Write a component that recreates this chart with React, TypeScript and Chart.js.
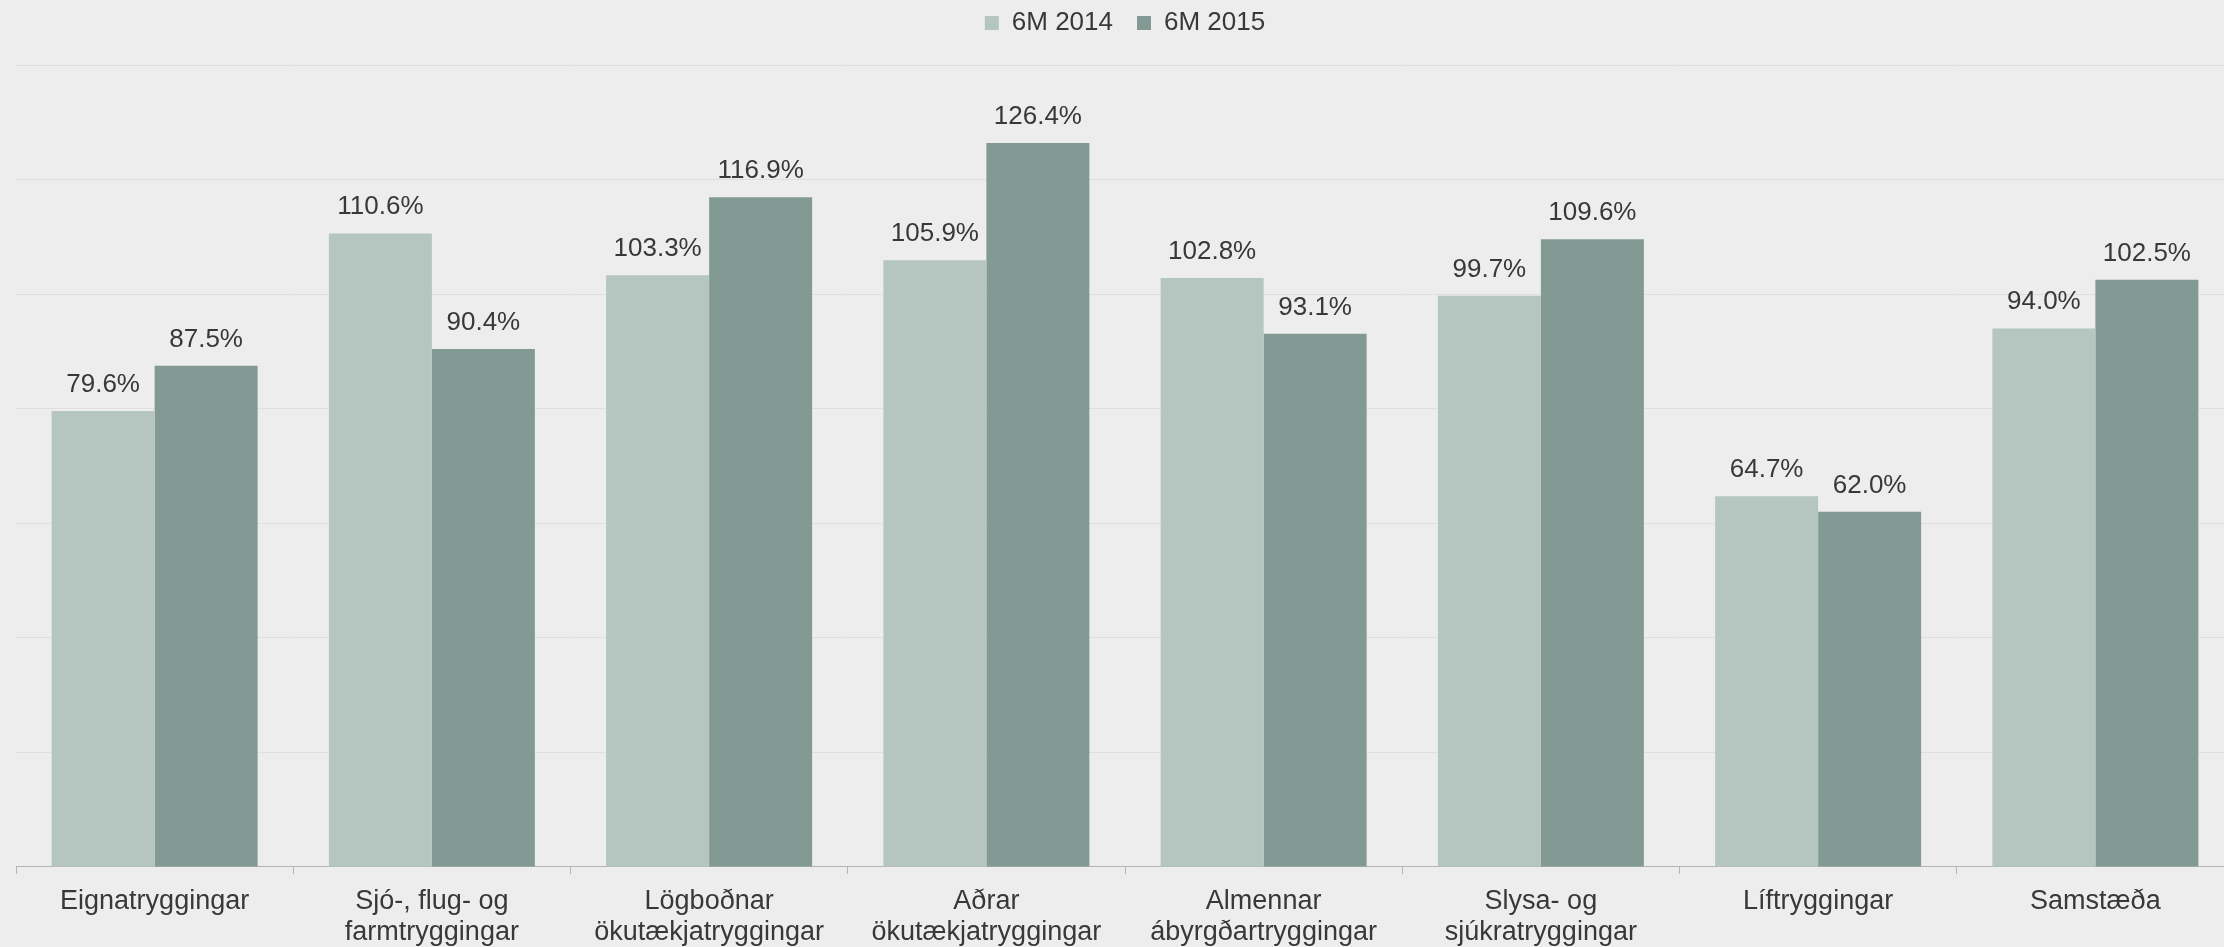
import React, { useEffect, useRef } from "react";
import { Chart, registerables } from "chart.js";

Chart.register(...registerables);

const categories: (string | string[])[] = [
  "Eignatryggingar",
  ["Sjó-, flug- og", "farmtryggingar"],
  ["Lögboðnar", "ökutækjatryggingar"],
  ["Aðrar", "ökutækjatryggingar"],
  ["Almennar", "ábyrgðartryggingar"],
  ["Slysa- og", "sjúkratryggingar"],
  "Líftryggingar",
  "Samstæða",
];

const seriesNames = ["6M 2014", "6M 2015"];
const values2014 = [79.6, 110.6, 103.3, 105.9, 102.8, 99.7, 64.7, 94.0];
const values2015 = [87.5, 90.4, 116.9, 126.4, 93.1, 109.6, 62.0, 102.5];
const yTicks = [0, 20, 40, 60, 80, 100, 120, 140];

const FONT = "'Liberation Sans', Arial, sans-serif";
const TEXT = "#383838";
const LEGEND_GAP = 24;

const legendSpacer = {
  id: "legendSpacer",
  beforeInit(chart: any) {
    const legend = chart.legend;
    if (!legend) return;
    const fit = legend.fit;
    legend.fit = function () {
      fit.call(this);
      this.height = 65;
    };
  },
  afterLayout(chart: any) {
    if (chart.legend) chart.legend.top = 10 - LEGEND_GAP;
  },
};

const valueLabels = {
  id: "valueLabels",
  afterDatasetsDraw(chart: any) {
    const ctx = chart.ctx;
    ctx.save();
    ctx.font = `26px ${FONT}`;
    ctx.fillStyle = TEXT;
    ctx.textAlign = "center";
    ctx.textBaseline = "alphabetic";
    chart.data.datasets.forEach((ds: any, i: number) => {
      const meta = chart.getDatasetMeta(i);
      meta.data.forEach((bar: any, j: number) => {
        const v = ds.data[j] as number;
        ctx.fillText(`${v.toFixed(1)}%`, bar.x, bar.y - 19);
      });
    });
    ctx.restore();
  },
};

export default function App() {
  const ref = useRef<HTMLCanvasElement>(null);

  useEffect(() => {
    if (!ref.current) return;
    const chart = new Chart(ref.current, {
      type: "bar",
      data: {
        labels: categories,
        datasets: [
          {
            label: seriesNames[0],
            data: values2014,
            backgroundColor: "#b5c5bf",
            barPercentage: 1,
            categoryPercentage: 0.743,
          },
          {
            label: seriesNames[1],
            data: values2015,
            backgroundColor: "#829a93",
            barPercentage: 1,
            categoryPercentage: 0.743,
          },
        ],
      },
      options: {
        responsive: false,
        animation: false,
        layout: { padding: { left: 16, right: 0, top: 0, bottom: -13 } },
        plugins: {
          legend: {
            position: "top",
            labels: {
              boxWidth: 14,
              boxHeight: 14,
              padding: LEGEND_GAP,
              color: TEXT,
              font: { family: FONT, size: 26 },
            },
          },
          tooltip: { enabled: false },
        },
        scales: {
          x: {
            grid: {
              display: true,
              drawOnChartArea: false,
              drawTicks: true,
              tickLength: 7,
              color: "#b4b4b4",
              offset: true,
            },
            border: { display: true, color: "#b4b4b4", width: 1 },
            ticks: {
              color: TEXT,
              font: { family: FONT, size: 27, lineHeight: 1.15 },
              padding: 12,
              maxRotation: 0,
              autoSkip: false,
            },
          },
          y: {
            min: 0,
            max: 140,
            afterBuildTicks: (scale: any) => {
              scale.ticks = yTicks.map((v) => ({ value: v }));
            },
            grid: {
              drawTicks: false,
              color: (c: any) => (c.tick && c.tick.value === 0 ? "rgba(0,0,0,0)" : "#dfdfdf"),
              lineWidth: 1,
            },
            border: { display: false },
            ticks: { display: false, stepSize: 20 },
          },
        },
      },
      plugins: [legendSpacer, valueLabels],
    });
    return () => chart.destroy();
  }, []);

  return (
    <div
      style={{
        position: "absolute",
        left: 0,
        top: 0,
        width: 2224,
        height: 947,
        overflow: "hidden",
        background: "#ededed",
      }}
    >
      <canvas ref={ref} width={2234} height={947} style={{ display: "block" }} />
    </div>
  );
}
